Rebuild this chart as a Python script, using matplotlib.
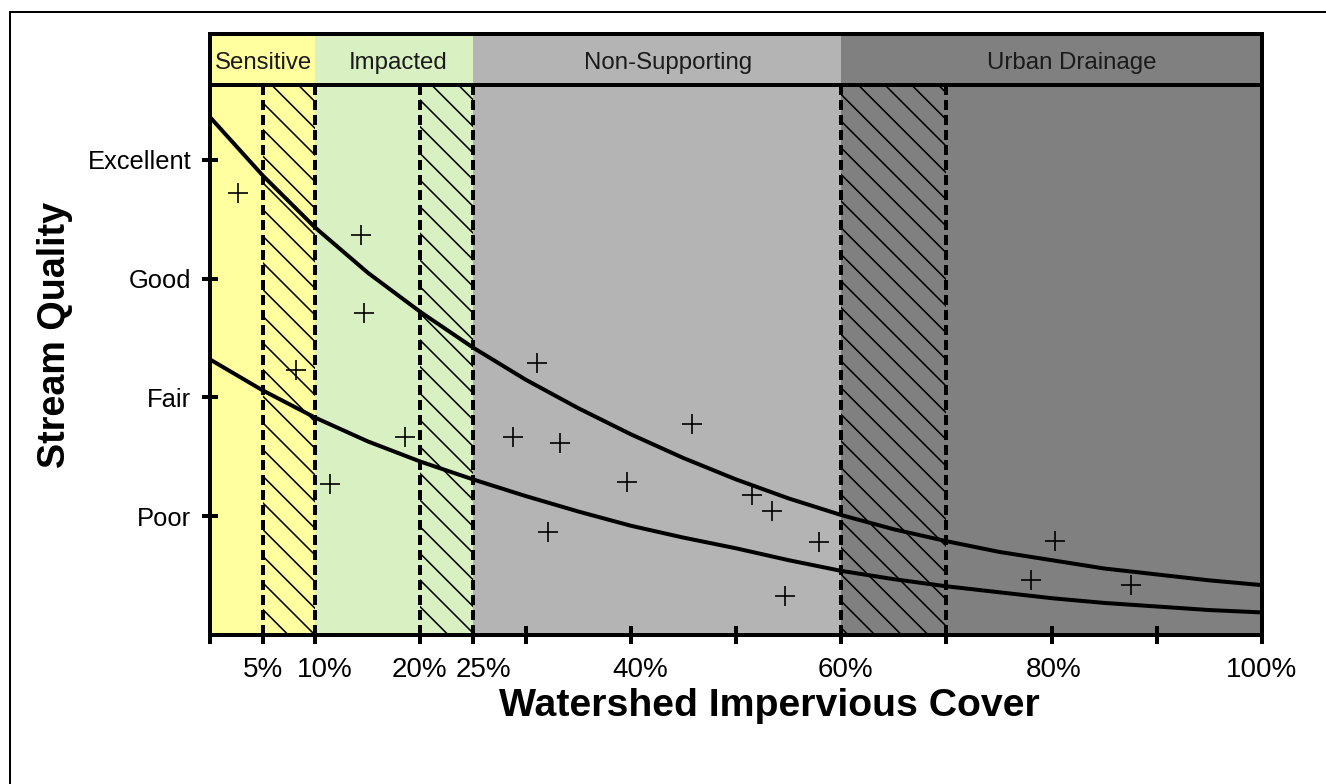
import matplotlib
matplotlib.use("Agg")
import matplotlib.pyplot as plt
from matplotlib.lines import Line2D

plt.rcParams['font.family'] = ['Liberation Sans', 'DejaVu Sans']
plt.rcParams['hatch.linewidth'] = 0.7

# zones along impervious cover (%)
zone_edges = [0, 10, 25, 60, 100]
zone_names = ["Sensitive", "Impacted", "Non-Supporting", "Urban Drainage"]
zone_label_x = [5.1, 17.9, 43.5, 81.9]
zone_colors = ["#ffffa0", "#d9f0c2", "#b4b4b4", "#808080"]

# hatched transition bands (%)
band_lo = [5, 20, 60]
band_hi = [10, 25, 70]

# upper / lower bound curves (read every 5%)
curve_x = [0, 5, 10, 15, 20, 25, 30, 35, 40, 45, 50, 55, 60, 65, 70, 75, 80, 85, 90, 95, 100]
upper_y = [4.36, 3.87, 3.43, 3.05, 2.72, 2.42, 2.15, 1.91, 1.69, 1.49, 1.31, 1.15, 1.01,
           0.89, 0.79, 0.70, 0.63, 0.56, 0.51, 0.46, 0.42]
lower_y = [2.32, 2.06, 1.83, 1.63, 1.46, 1.31, 1.17, 1.04, 0.92, 0.82, 0.73, 0.63, 0.54,
           0.47, 0.41, 0.36, 0.31, 0.27, 0.24, 0.21, 0.19]

# observed streams
obs_x = [2.7, 14.4, 14.6, 8.2, 18.5, 11.4, 31.1, 28.8, 33.3, 39.6, 32.1, 45.8, 51.5,
         53.4, 57.9, 54.7, 80.3, 78.0, 87.5]
obs_y = [3.72, 3.37, 2.71, 2.23, 1.67, 1.27, 2.29, 1.67, 1.62, 1.29, 0.87, 1.78, 1.18,
         1.04, 0.78, 0.33, 0.79, 0.46, 0.42]

x_ticks = [0, 5, 10, 20, 25, 30, 40, 50, 60, 70, 80, 90, 100]
# percentage labels sit a little off their ticks in the original
x_label_pos = [5, 10.9, 19.9, 26.0, 40.9, 60.4, 80.2, 100]
x_label_text = ["5%", "10%", "20%", "25%", "40%", "60%", "80%", "100%"]
y_ticks = [1, 2, 3, 4]
y_labels = ["Poor", "Fair", "Good", "Excellent"]

header_lo = 4.63
y_top = 5.06

fig = plt.figure(figsize=(1326 / 160, 784 / 160), dpi=160)
ax = fig.add_axes([210 / 1326, 1 - 635 / 784, 1052 / 1326, 601 / 784])

for i in range(len(zone_names)):
    ax.axvspan(zone_edges[i], zone_edges[i + 1], color=zone_colors[i], lw=0, zorder=0)
    ax.text(zone_label_x[i], 4.82, zone_names[i],
            ha='center', va='center', fontsize=10.8, color='#1a1a1a')

frac = header_lo / y_top
for lo, hi in zip(band_lo, band_hi):
    ax.axvspan(lo, hi, ymin=0, ymax=frac, facecolor='none', edgecolor='black',
               hatch='\\\\', lw=0, zorder=1)
    ax.vlines([lo, hi], 0, header_lo, colors='black', lw=1.8,
              linestyles=(0, (2.5, 1.25)), zorder=3)

ax.axhline(header_lo, color='black', lw=1.8, zorder=4)

ax.plot(curve_x, upper_y, color='black', lw=1.8, zorder=5)
ax.plot(curve_x, lower_y, color='black', lw=1.8, zorder=5)
ax.plot(obs_x, obs_y, ls='none', marker='+', ms=9, mew=0.75, color='black', zorder=6)

ax.set_xlim(0, 100)
ax.set_ylim(0, y_top)
ax.set_xticks(x_ticks)
ax.set_xticklabels([])
for xp, t in zip(x_label_pos, x_label_text):
    ax.text(xp, -0.07, t, transform=ax.get_xaxis_transform(), ha='center', va='baseline',
            fontsize=12.5)
ax.set_yticks(y_ticks)
ax.set_yticklabels(y_labels)
ax.tick_params(axis='both', direction='inout', width=1.8, colors='black')
ax.tick_params(axis='x', length=8)
ax.tick_params(axis='y', length=7, pad=5, labelsize=11.5)
for s in ax.spines.values():
    s.set_linewidth(1.8)
    s.set_zorder(7)

ax.set_xlabel("Watershed Impervious Cover", fontsize=17.7, fontweight='bold')
ax.xaxis.set_label_coords(0.532, -0.088)
ax.set_ylabel("Stream Quality", fontsize=17, fontweight='bold')
ax.yaxis.set_label_coords(-0.13, 0.5)

# outer frame
fig.add_artist(Line2D([10 / 1326, 1], [1 - 12 / 784, 1 - 12 / 784], color='black', lw=0.9))
fig.add_artist(Line2D([10 / 1326, 10 / 1326], [0, 1 - 12 / 784], color='black', lw=0.9))

fig.savefig("out.png", dpi=160)
